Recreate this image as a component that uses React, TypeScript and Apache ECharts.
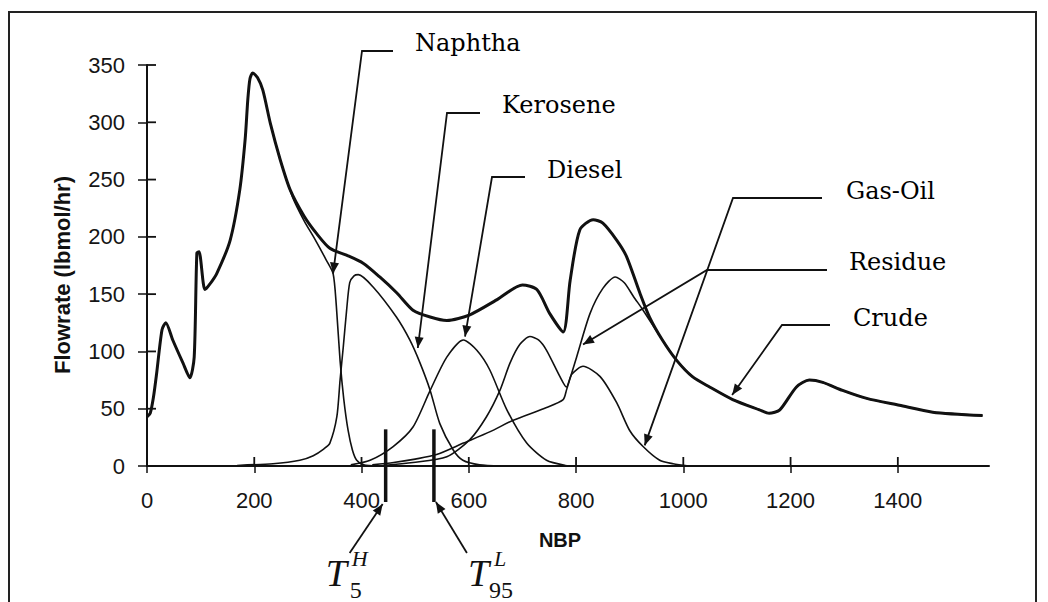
import React, { useEffect, useRef } from "react";
import * as echarts from "echarts";

// ---- data (NBP, flowrate lbmol/hr) ----
const crude: [number, number][] = [
  [0, 43], [6, 46], [12, 60], [18, 81], [28, 119], [35, 125], [48, 110], [67, 90], [80, 77], [88, 95],
  [93, 186], [97, 187], [108, 154], [116, 158], [130, 168], [155, 197], [173, 241], [183, 285], [188, 320],
  [192, 338], [197, 343], [206, 339], [216, 328], [230, 299], [248, 268], [267, 241], [293, 218], [316, 203],
  [341, 190], [372, 184], [403, 177], [434, 165], [466, 151], [496, 136], [528, 130], [559, 127], [602, 132],
  [652, 145], [700, 158], [727, 154], [751, 133], [776, 117], [789, 162], [807, 206], [832, 215], [850, 212],
  [876, 197], [894, 183], [919, 151], [937, 130], [961, 110], [988, 92], [1017, 78], [1049, 69], [1092, 58],
  [1142, 49], [1160, 46], [1180, 49], [1211, 69], [1235, 75], [1260, 73], [1297, 66], [1342, 59], [1403, 53],
  [1465, 47], [1558, 44],
];
const naphtha: [number, number][] = [
  [230, 299], [248, 268], [272, 234], [293, 214], [313, 198], [334, 180], [347, 168], [353, 140], [360, 92],
  [367, 58], [375, 31], [383, 14], [391, 5], [404, 1], [430, 0],
];
const kerosene: [number, number][] = [
  [168, 0.5], [235, 2], [285, 5], [310, 9], [330, 15], [341, 20], [354, 43], [360, 75], [366, 104], [372, 135],
  [378, 160], [386, 166], [394, 167], [422, 156], [465, 130], [490, 110], [509, 90], [528, 66], [546, 37],
  [571, 14], [589, 5], [620, 1], [660, 0],
];
const diesel: [number, number][] = [
  [380, 1], [416, 5], [459, 17], [496, 34], [528, 66], [559, 95], [590, 110], [615, 101], [639, 84], [671, 49],
  [708, 20], [745, 5], [780, 0.5], [800, 0],
];
const gasOil: [number, number][] = [
  [440, 0.5], [496, 3], [559, 8], [602, 23], [633, 43], [658, 66], [677, 90], [695, 106], [714, 113], [730, 110],
  [745, 101], [770, 78], [782, 69], [792, 80], [813, 87], [845, 78], [876, 55], [900, 31], [925, 17], [956, 5],
  [981, 2], [1010, 0],
];
const residue: [number, number][] = [
  [420, 1], [460, 3], [500, 6], [540, 10], [590, 20], [640, 30], [683, 40], [745, 51], [776, 58], [782, 66],
  [801, 95], [826, 133], [850, 155], [873, 165], [890, 160], [907, 148], [925, 136], [961, 110], [988, 92],
  [1017, 78], [1049, 69], [1092, 58], [1142, 49], [1160, 46], [1180, 49], [1211, 69], [1235, 75], [1260, 73],
  [1297, 66], [1342, 59], [1403, 53], [1465, 47], [1558, 44],
];

const xTicks = [0, 200, 400, 600, 800, 1000, 1200, 1400];
const yTicks = [0, 50, 100, 150, 200, 250, 300, 350];

// annotation labels and the curve points their arrows point to
const leaderNames = ["Naphtha", "Kerosene", "Diesel", "Gas-Oil", "Residue", "Crude"];
const leaderTips: [number, number][] = [[347, 168], [505, 103], [593, 113], [928, 18], [813, 106], [1091, 62]];
// cut temperatures (T5 of heavy, T95 of light)
const cutSup = ["H", "L"];
const cutSub = ["5", "95"];
const cutValues = [445, 535];
const cutTop = 32;

// ---- layout (pixels) ----
const leaderLayout = [
  { corner: [362, 51], end: [393, 51], text: [415, 43] },
  { corner: [447, 113], end: [480, 113], text: [502, 105] },
  { corner: [492, 177], end: [525, 177], text: [547, 170] },
  { corner: [733, 198], end: [822, 198], text: [846, 191] },
  { corner: [707, 270], end: [827, 270], text: [849, 262] },
  { corner: [782, 325], end: [830, 325], text: [853, 318] },
];

function arrowHead(x1: number, y1: number, x2: number, y2: number, L = 11, W = 4.5) {
  const dx = x2 - x1, dy = y2 - y1;
  const d = Math.hypot(dx, dy) || 1;
  const ux = dx / d, uy = dy / d;
  const bx = x2 - ux * L, by = y2 - uy * L;
  return [[x2, y2], [bx - uy * W, by + ux * W], [bx + uy * W, by - ux * W]];
}

export default function App() {
  const ref = useRef<HTMLDivElement>(null);
  useEffect(() => {
    const chart = echarts.init(ref.current!, undefined, { renderer: "svg" });
    const line = (name: string, data: [number, number][], width: number) => ({
      type: "line",
      name,
      data,
      symbol: "none",
      showSymbol: false,
      smooth: 0.25,
      lineStyle: { color: "#111", width },
      z: width > 2 ? 5 : 3,
      animation: false,
    });
    const axisFont = { fontSize: 22, color: "#151515", fontFamily: "Liberation Sans" };
    chart.setOption({
      animation: false,
      backgroundColor: "#ffffff",
      grid: { left: 147, right: 59, top: 65, bottom: 136, containLabel: false },
      xAxis: {
        type: "value", min: 0, max: 1570,
        axisLine: { show: true, onZero: false, lineStyle: { color: "#111", width: 2 } },
        axisTick: { show: true, length: 7, lineStyle: { color: "#111", width: 1.5 }, customValues: xTicks },
        axisLabel: { ...axisFont, margin: 23, customValues: xTicks, formatter: (v: number) => String(v) },
        splitLine: { show: false },
      },
      yAxis: {
        type: "value", min: 0, max: 350, interval: 50,
        axisLine: { show: true, onZero: false, lineStyle: { color: "#111", width: 2 } },
        axisTick: { show: true, length: 9, lineStyle: { color: "#111", width: 1.5 }, customValues: yTicks },
        axisLabel: { ...axisFont, margin: 22, customValues: yTicks, formatter: (v: number) => String(v) },
        splitLine: { show: false },
      },
      series: [
        line("Naphtha", naphtha, 1.6),
        line("Kerosene", kerosene, 1.6),
        line("Diesel", diesel, 1.6),
        line("Gas-Oil", gasOil, 1.6),
        line("Residue", residue, 1.6),
        line("Crude", crude, 3),
      ],
    });

    const toPx = (x: number, y: number) => chart.convertToPixel({ seriesIndex: 5 }, [x, y]) as number[];
    const stroke = { stroke: "#111", lineWidth: 1.8, fill: "none" };
    const g: any[] = [];

    // frame
    g.push({ type: "rect", shape: { x: 9, y: 12, width: 1027, height: 600 }, style: { fill: "none", stroke: "#222", lineWidth: 2 }, z: 1 });

    // inner halves of the axis ticks (ticks cross the axes)
    xTicks.forEach((v) => {
      const p = toPx(v, 0);
      g.push({ type: "line", shape: { x1: p[0], y1: p[1], x2: p[0], y2: p[1] - 9 }, style: { stroke: "#111", lineWidth: 1.8 }, z: 20 });
    });
    yTicks.forEach((v) => {
      const p = toPx(0, v);
      g.push({ type: "line", shape: { x1: p[0], y1: p[1], x2: p[0] + 9, y2: p[1] }, style: { stroke: "#111", lineWidth: 1.8 }, z: 20 });
    });

    // axis titles
    g.push({
      type: "text", x: 62, y: 275, rotation: Math.PI / 2,
      style: { text: "Flowrate (lbmol/hr)", fontSize: 22, fontWeight: "bold", fontFamily: "Liberation Sans", fill: "#111", align: "center", verticalAlign: "middle" },
    });
    g.push({
      type: "text", x: 560, y: 540,
      style: { text: "NBP", fontSize: 20, fontWeight: "bold", fontFamily: "Liberation Sans", fill: "#111", align: "center", verticalAlign: "middle" },
    });

    // leaders
    leaderNames.forEach((name, i) => {
      const L = leaderLayout[i];
      const tip = toPx(leaderTips[i][0], leaderTips[i][1]);
      g.push({ type: "polyline", shape: { points: [L.end, L.corner, tip] }, style: stroke, z: 10 });
      g.push({ type: "polygon", shape: { points: arrowHead(L.corner[0], L.corner[1], tip[0], tip[1]) }, style: { fill: "#111" }, z: 10 });
      g.push({
        type: "text", x: L.text[0], y: L.text[1],
        style: { text: name, fontSize: 24, fontFamily: "DejaVu Serif", fill: "#000", align: "left", verticalAlign: "middle" },
        z: 10,
      });
    });

    // cut temperature markers
    const serif = "Liberation Serif";
    cutValues.forEach((v, i) => {
      const top = toPx(v, cutTop);
      const base = toPx(v, 0);
      const bottom = base[1] + 36;
      g.push({ type: "line", shape: { x1: top[0], y1: top[1], x2: top[0], y2: bottom }, style: { stroke: "#111", lineWidth: 3.5 }, z: 10 });
      const isLow = i === 0;
      const tail = isLow ? [top[0] - 36, 553] : [top[0] + 33, 553];
      const tip = isLow ? [top[0] - 3, bottom + 2] : [top[0] + 2, bottom];
      g.push({ type: "line", shape: { x1: tail[0], y1: tail[1], x2: tip[0], y2: tip[1] }, style: stroke, z: 10 });
      g.push({ type: "polygon", shape: { points: arrowHead(tail[0], tail[1], tip[0], tip[1]) }, style: { fill: "#111" }, z: 10 });
      const tx = isLow ? top[0] - 60 : top[0] + 34;
      g.push({ type: "text", x: tx, y: 573, style: { text: "T", fontSize: 38, fontStyle: "italic", fontFamily: serif, fill: "#111", align: "left", verticalAlign: "middle" } });
      g.push({ type: "text", x: tx + 26, y: 558, style: { text: cutSup[i], fontSize: 22, fontStyle: "italic", fontFamily: serif, fill: "#111", align: "left", verticalAlign: "middle" } });
      g.push({ type: "text", x: tx + (isLow ? 24 : 21), y: 590, style: { text: cutSub[i], fontSize: 24, fontFamily: serif, fill: "#111", align: "left", verticalAlign: "middle" } });
    });

    chart.setOption({ graphic: g });
    return () => chart.dispose();
  }, []);
  return <div ref={ref} style={{ position: "absolute", left: 0, top: 0, width: 1048, height: 602 }} />;
}
